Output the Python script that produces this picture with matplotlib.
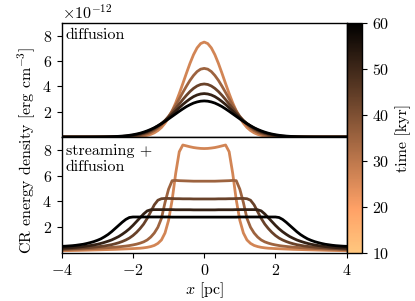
import numpy as np
import matplotlib
matplotlib.use("Agg")
import matplotlib.pyplot as plt
from matplotlib import colors, cm

plt.rcParams.update({
    "font.family": "serif",
    "font.serif": ["cmr10"],
    "mathtext.fontset": "cm",
    "axes.formatter.use_mathtext": True,
    "font.size": 11.5,
    "axes.linewidth": 1.0,
})

# ---------------- data ----------------
times = [20, 30, 40, 50, 60]          # kyr
x_pc = np.linspace(-4, 4, 81)         # sample positions [pc]

# diffusion only (units of 1e-12 erg cm^-3)
diff_20 = [0, 0, 0, 0, 0, 0, 0, 0, 0, 0, 0, 0, 0, 0, 0, 0,
           0.001, 0.002, 0.003, 0.007, 0.013, 0.024, 0.043, 0.075, 0.13, 0.21, 0.33, 0.51, 0.75, 1.09, 1.52, 2.06,
           2.70, 3.43, 4.22, 5.03, 5.81, 6.50, 7.04, 7.38, 7.5, 7.38, 7.04, 6.50, 5.81, 5.03, 4.22, 3.43, 2.70,
           2.06, 1.52, 1.09, 0.75, 0.51, 0.33, 0.21, 0.13, 0.075, 0.043, 0.024, 0.013, 0.007, 0.003, 0.002, 0.001,
           0, 0, 0, 0, 0, 0, 0, 0, 0, 0, 0, 0, 0, 0, 0, 0]
diff_30 = [0, 0, 0, 0, 0, 0, 0, 0, 0, 0, 0, 0, 0, 0,
           0.001, 0.003, 0.005, 0.009, 0.016, 0.027, 0.044, 0.071, 0.110, 0.168, 0.25, 0.36, 0.51, 0.71, 0.96,
           1.27, 1.63, 2.05, 2.51, 3.01, 3.52, 4.01, 4.47, 4.86, 5.17, 5.36, 5.42, 5.36, 5.17, 4.86, 4.47, 4.01,
           3.52, 3.01, 2.51, 2.05, 1.63, 1.27, 0.96, 0.71, 0.51, 0.36, 0.25, 0.168, 0.110, 0.071, 0.044, 0.027,
           0.016, 0.009, 0.005, 0.003, 0.001,
           0, 0, 0, 0, 0, 0, 0, 0, 0, 0, 0, 0, 0, 0]
diff_40 = [0, 0, 0, 0, 0, 0, 0, 0, 0, 0, 0,
           0.001, 0.002, 0.004, 0.006, 0.010, 0.016, 0.025, 0.039, 0.059, 0.088, 0.13, 0.18, 0.26, 0.35, 0.48,
           0.63, 0.82, 1.04, 1.30, 1.60, 1.92, 2.26, 2.61, 2.96, 3.29, 3.59, 3.84, 4.03, 4.15, 4.19, 4.15, 4.03,
           3.84, 3.59, 3.29, 2.96, 2.61, 2.26, 1.92, 1.60, 1.30, 1.04, 0.82, 0.63, 0.48, 0.35, 0.26, 0.18, 0.13,
           0.088, 0.059, 0.039, 0.025, 0.016, 0.010, 0.006, 0.004, 0.002, 0.001,
           0, 0, 0, 0, 0, 0, 0, 0, 0, 0, 0]
diff_50 = [0, 0, 0, 0, 0, 0, 0, 0, 0,
           0.001, 0.002, 0.004, 0.006, 0.010, 0.015, 0.022, 0.033, 0.048, 0.069, 0.098, 0.14, 0.19, 0.25, 0.33,
           0.43, 0.56, 0.71, 0.88, 1.07, 1.29, 1.53, 1.78, 2.05, 2.31, 2.57, 2.80, 3.01, 3.19, 3.32, 3.40, 3.43,
           3.40, 3.32, 3.19, 3.01, 2.80, 2.57, 2.31, 2.05, 1.78, 1.53, 1.29, 1.07, 0.88, 0.71, 0.56, 0.43, 0.33,
           0.25, 0.19, 0.14, 0.098, 0.069, 0.048, 0.033, 0.022, 0.015, 0.010, 0.006, 0.004, 0.002, 0.001,
           0, 0, 0, 0, 0, 0, 0, 0, 0]
diff_60 = [0, 0, 0, 0, 0, 0,
           0.001, 0.0015, 0.0023, 0.0036, 0.0056, 0.0085, 0.0125, 0.018, 0.026, 0.038, 0.053, 0.073, 0.10, 0.135,
           0.179, 0.234, 0.30, 0.386, 0.485, 0.60, 0.73, 0.885, 1.05, 1.23, 1.43, 1.63, 1.83, 2.03, 2.22, 2.40,
           2.55, 2.68, 2.77, 2.83, 2.85, 2.83, 2.77, 2.68, 2.55, 2.40, 2.22, 2.03, 1.83, 1.63, 1.43, 1.23, 1.05,
           0.885, 0.73, 0.60, 0.485, 0.386, 0.30, 0.234, 0.179, 0.135, 0.10, 0.073, 0.053, 0.038, 0.026, 0.018,
           0.0125, 0.0085, 0.0056, 0.0036, 0.0023, 0.0015, 0.001,
           0, 0, 0, 0, 0, 0]

# streaming + diffusion (units of 1e-12 erg cm^-3)
strm_20 = [0.10, 0.106, 0.112, 0.118, 0.124, 0.13, 0.138, 0.146, 0.154, 0.162,
           0.17, 0.178, 0.186, 0.194, 0.202, 0.21, 0.222, 0.234, 0.246, 0.258,
           0.27, 0.285, 0.30, 0.33, 0.37, 0.43, 0.52, 0.68, 0.95, 1.5,
           2.5, 4.1, 6.2, 7.9, 8.43, 8.36, 8.29, 8.23, 8.19, 8.16,
           8.15,
           8.16, 8.19, 8.23, 8.29, 8.36, 8.43, 7.9, 6.2, 4.1, 2.5,
           1.5, 0.95, 0.68, 0.52, 0.43, 0.37, 0.33, 0.30, 0.285, 0.27,
           0.258, 0.246, 0.234, 0.222, 0.21, 0.202, 0.194, 0.186, 0.178, 0.17,
           0.162, 0.154, 0.146, 0.138, 0.13, 0.124, 0.118, 0.112, 0.106, 0.10]
strm_30 = [0.176, 0.185, 0.194, 0.204, 0.214, 0.225, 0.236, 0.248, 0.26, 0.275,
           0.29, 0.305, 0.325, 0.345, 0.365, 0.385, 0.41, 0.44, 0.47, 0.51,
           0.56, 0.62, 0.7, 0.8, 0.95, 1.18, 1.5, 1.95, 2.65, 3.9,
           4.95, 5.62, 5.64, 5.62, 5.61, 5.60, 5.59, 5.58, 5.58, 5.58,
           5.58,
           5.58, 5.58, 5.58, 5.59, 5.60, 5.61, 5.62, 5.64, 5.62, 4.95,
           3.9, 2.65, 1.95, 1.5, 1.18, 0.95, 0.8, 0.7, 0.62, 0.56,
           0.51, 0.47, 0.44, 0.41, 0.385, 0.365, 0.345, 0.325, 0.305, 0.29,
           0.275, 0.26, 0.248, 0.236, 0.225, 0.214, 0.204, 0.194, 0.185, 0.176]
strm_40 = [0.23, 0.24, 0.255, 0.27, 0.285, 0.30, 0.32, 0.34, 0.36, 0.385,
           0.41, 0.445, 0.48, 0.53, 0.58, 0.65, 0.73, 0.83, 0.95, 1.1,
           1.3, 1.55, 1.85, 2.2, 2.65, 3.18, 3.72, 4.08, 4.2, 4.22,
           4.22, 4.21, 4.2, 4.2, 4.19, 4.19, 4.19, 4.18, 4.18, 4.18,
           4.18,
           4.18, 4.18, 4.18, 4.19, 4.19, 4.19, 4.2, 4.2, 4.21, 4.22,
           4.22, 4.2, 4.08, 3.72, 3.18, 2.65, 2.2, 1.85, 1.55, 1.3,
           1.1, 0.95, 0.83, 0.73, 0.65, 0.58, 0.53, 0.48, 0.445, 0.41,
           0.385, 0.36, 0.34, 0.32, 0.30, 0.285, 0.27, 0.255, 0.24, 0.23]
strm_50 = [0.30, 0.315, 0.33, 0.35, 0.37, 0.40, 0.43, 0.47, 0.51, 0.56,
           0.61, 0.68, 0.76, 0.85, 0.95, 1.08, 1.22, 1.4, 1.6, 1.83,
           2.1, 2.4, 2.7, 3.0, 3.24, 3.33, 3.34, 3.34, 3.34, 3.34,
           3.34, 3.34, 3.33, 3.33, 3.33, 3.33, 3.33, 3.32, 3.32, 3.32,
           3.32,
           3.32, 3.32, 3.32, 3.33, 3.33, 3.33, 3.33, 3.33, 3.34, 3.34,
           3.34, 3.34, 3.34, 3.34, 3.33, 3.24, 3.0, 2.7, 2.4, 2.1,
           1.83, 1.6, 1.4, 1.22, 1.08, 0.95, 0.85, 0.76, 0.68, 0.61,
           0.56, 0.51, 0.47, 0.43, 0.40, 0.37, 0.35, 0.33, 0.315, 0.30]
strm_60 = [0.45, 0.46, 0.48, 0.5, 0.53, 0.57, 0.61, 0.67, 0.74, 0.82,
           0.92, 1.04, 1.2, 1.38, 1.6, 1.85, 2.1, 2.35, 2.57, 2.72,
           2.76, 2.76, 2.76, 2.76, 2.76, 2.76, 2.76, 2.76, 2.76, 2.76,
           2.76, 2.75, 2.75, 2.75, 2.75, 2.75, 2.75, 2.75, 2.75, 2.75,
           2.75,
           2.75, 2.75, 2.75, 2.75, 2.75, 2.75, 2.75, 2.75, 2.75, 2.76,
           2.76, 2.76, 2.76, 2.76, 2.76, 2.76, 2.76, 2.76, 2.76, 2.76,
           2.72, 2.57, 2.35, 2.1, 1.85, 1.6, 1.38, 1.2, 1.04, 0.92,
           0.82, 0.74, 0.67, 0.61, 0.57, 0.53, 0.5, 0.48, 0.46, 0.45]

diffusion_runs = [diff_20, diff_30, diff_40, diff_50, diff_60]
streaming_runs = [strm_20, strm_30, strm_40, strm_50, strm_60]
for arr in diffusion_runs + streaming_runs:
    assert len(arr) == len(x_pc), len(arr)

UNIT = 1e-12

# ---------------- figure ----------------
fig = plt.figure(figsize=(4.15, 3.01), dpi=100)
L, R = 61.7 / 415, 346.7 / 415
ax1 = fig.add_axes([L, 1 - 137.0 / 301, R - L, (137.0 - 22.7) / 301])
ax2 = fig.add_axes([L, 1 - 253.3 / 301, R - L, (253.3 - 137.0) / 301])
cax = fig.add_axes([R, 1 - 253.3 / 301, 15.6 / 415, (253.3 - 22.7) / 301])

cmap = plt.get_cmap("copper_r")
for t, yd, ys in zip(times, diffusion_runs, streaming_runs):
    c = cmap(t / 60.0)
    ax1.plot(x_pc, np.array(yd) * UNIT, color=c, lw=2.0)
    ax2.plot(x_pc, np.array(ys) * UNIT, color=c, lw=2.0)

for ax in (ax1, ax2):
    ax.set_xlim(-4, 4)
    ax.set_yticks(np.array([2, 4, 6, 8]) * UNIT)
ax1.set_ylim(0, 9.03 * UNIT)
ax2.set_ylim(-0.1 * UNIT, 9.06 * UNIT)
ax1.tick_params(axis="x", bottom=False, labelbottom=False)
ax2.set_xticks([-4, -2, 0, 2, 4])
ax2.yaxis.get_offset_text().set_visible(False)

ax1.text(0.015, 0.95, "diffusion", transform=ax1.transAxes, va="top", ha="left")
ax2.text(0.015, 0.94, "streaming +\ndiffusion", transform=ax2.transAxes, va="top",
         ha="left", linespacing=1.2)

ax2.set_xlabel(r"$x$ [pc]", labelpad=2)
fig.text(0.065, 0.5, r"CR energy density [erg cm$^{-3}$]", rotation=90,
         ha="center", va="center")

norm = colors.Normalize(vmin=10, vmax=60)
sm = cm.ScalarMappable(norm=norm, cmap=cmap)
cb = fig.colorbar(sm, cax=cax)
cb.set_ticks([10, 20, 30, 40, 50, 60])
cb.set_label("time [kyr]")

fig.savefig("out.png", dpi=100)
